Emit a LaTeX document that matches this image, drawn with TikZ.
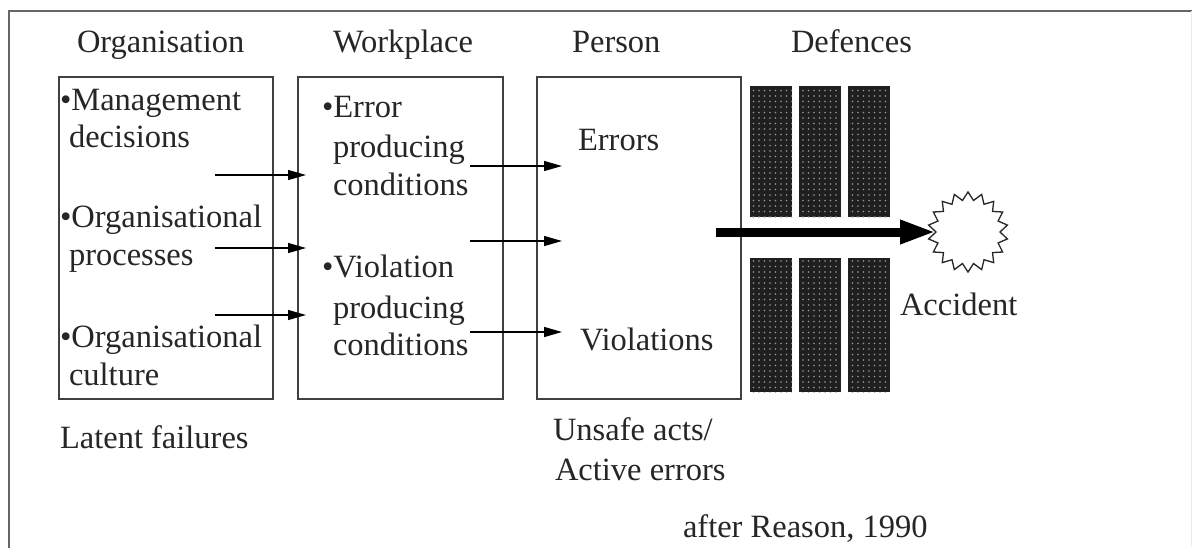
\documentclass[tikz,border=0pt]{standalone}
\usepackage{fontspec}
\setmainfont{Liberation Serif}
\usetikzlibrary{arrows.meta,shapes.geometric,patterns.meta}
\begin{document}
\begin{tikzpicture}[x=1pt,y=-1pt,
  every node/.style={inner sep=0pt,outer sep=0pt},
  txt/.style={anchor=base west,text=black!85,font=\fontsize{32.5}{38}\selectfont},
  box/.style={draw=black!75,line width=1.4pt},
  defbar/.style={preaction={fill=black!88},pattern={Dots[distance=5.5pt,radius=0.85pt]},pattern color=black!40},
  thin/.style={draw=black,line width=1.4pt,-{Triangle[length=18pt,width=10pt]}},
  thick/.style={draw=black,line width=9pt,-{Triangle[length=36pt,width=22pt]}}
]
\useasboundingbox (0,0) rectangle (1192,547);
\fill[white] (0,0) rectangle (1192,547);
% frame
\draw[black!60,line width=2pt] (9,560) -- (9,11) -- (1192,11);
\draw[black!8,line width=1pt] (1191,11) -- (1191,547);
% titles
\node[txt] (tOrg) at (77,52) {Organisation};
\node[txt] (tWork) at (333,52) {Workplace};
\node[txt] (tPers) at (572,52) {Person};
\node[txt] (tDef) at (791,52) {Defences};
% boxes
\node[box,minimum width=214,minimum height=322] (org) at (166,238) {};
\node[box,minimum width=205,minimum height=322] (work) at (400.5,238) {};
\node[box,minimum width=204,minimum height=322] (pers) at (639,238) {};
% organisation text
\node[txt] (o1a) at (60,110) {•Management};
\node[txt] (o1b) at (69,147) {decisions};
\node[txt] (o2a) at (60,227) {•Organisational};
\node[txt] (o2b) at (69,265) {processes};
\node[txt] (o3a) at (60,347) {•Organisational};
\node[txt] (o3b) at (69,385) {culture};
% workplace text
\node[txt] (w1a) at (322,117) {•Error};
\node[txt] (w1b) at (333,157) {producing};
\node[txt] (w1c) at (333,195) {conditions};
\node[txt] (w2a) at (322,277) {•Violation};
\node[txt] (w2b) at (333,318) {producing};
\node[txt] (w2c) at (333,355) {conditions};
% person text
\node[txt] (pE) at (578,150) {Errors};
\node[txt] (pV) at (580,350) {Violations};
% captions
\node[txt] (lat) at (60,448) {Latent failures};
\node[txt] (u1) at (553,440) {Unsafe acts/};
\node[txt] (u2) at (555,480) {Active errors};
\node[txt] (after) at (683,537) {after Reason, 1990};
% defence bars
\node[defbar,minimum width=42,minimum height=131] (b1) at (771,151.5) {};
\node[defbar,minimum width=42,minimum height=131] (b2) at (820,151.5) {};
\node[defbar,minimum width=42,minimum height=131] (b3) at (869,151.5) {};
\node[defbar,minimum width=42,minimum height=134] (b4) at (771,325) {};
\node[defbar,minimum width=42,minimum height=134] (b5) at (820,325) {};
\node[defbar,minimum width=42,minimum height=134] (b6) at (869,325) {};
% accident star
\node[star,star points=18,star point ratio=1.25,minimum size=80pt,draw=black!85,line width=1.3pt,fill=white] (acc) at (968,232) {};
\node[txt] (accT) at (900,315) {Accident};
% arrow coordinates
\coordinate (a1s) at (215,175); \coordinate (a1e) at (306,175);
\coordinate (a2s) at (215,248); \coordinate (a2e) at (306,248);
\coordinate (a3s) at (215,315); \coordinate (a3e) at (306,315);
\coordinate (c1s) at (470,166); \coordinate (c1e) at (562,166);
\coordinate (c2s) at (470,241); \coordinate (c2e) at (562,241);
\coordinate (c3s) at (470,332); \coordinate (c3e) at (562,332);
\coordinate (ts) at (716,232);
\draw[thin] (a1s) -- (a1e);
\draw[thin] (a2s) -- (a2e);
\draw[thin] (a3s) -- (a3e);
\draw[thin] (c1s) -- (c1e);
\draw[thin] (c2s) -- (c2e);
\draw[thin] (c3s) -- (c3e);
\draw[thick] (ts) -- (acc.west);
\end{tikzpicture}
\end{document}
